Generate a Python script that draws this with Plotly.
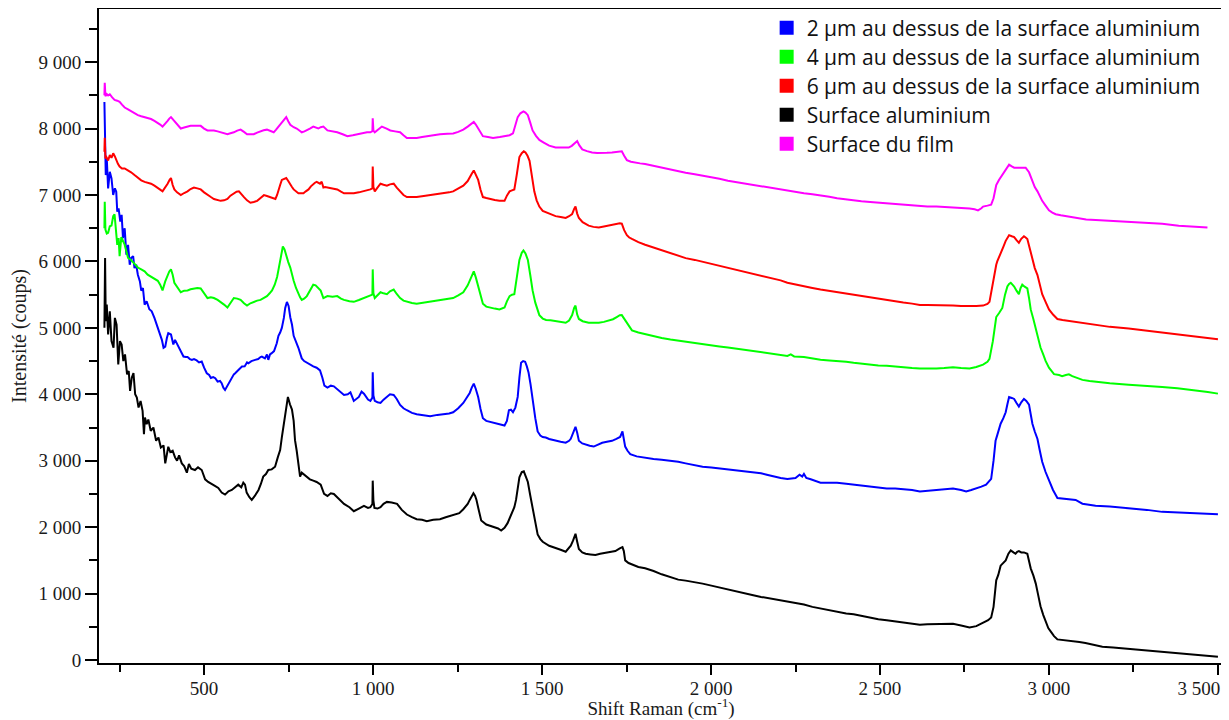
import plotly.graph_objects as go

# ---- data: (Raman shift cm-1, intensity counts) ----
surface_alu = [
(205,5000),(207,6050),(209,5100),(212,5350),(216,4900),(221,5250),(226,4800),(232,4700),(236,5150),(241,5050),
(246,4450),(251,4800),(256,4750),(261,4500),(266,4600),(272,4300),(277,4350),(281,4050),(286,4250),(291,4320),
(296,4000),(301,3950),(306,3800),(312,3900),(318,3750),(322,3400),(325,3650),(330,3550),(335,3620),(342,3450),
(350,3500),(358,3300),(365,3350),(372,3200),(380,3230),(385,2960),(390,3100),(394,3210),(400,3130),(407,3150),
(414,3050),(420,3000),(426,3080),(434,2960),(441,2920),(449,2820),(455,2950),(462,2880),(473,2860),(482,2900),
(493,2860),(503,2720),(512,2680),(523,2640),(532,2620),(542,2590),(552,2520),(562,2490),(572,2540),(582,2560),
(592,2600),(601,2640),(610,2600),(616,2670),(621,2640),(626,2520),(634,2450),(641,2410),(650,2470),(661,2560),
(668,2650),(675,2760),(683,2800),(690,2860),(700,2870),(710,2910),(718,3050),(725,3160),(730,3350),(735,3510),
(742,3780),(748,3960),(754,3850),(760,3770),(765,3600),(769,3310),(774,3150),(779,2950),(784,2760),(789,2820),
(794,2800),(804,2760),(813,2720),(823,2700),(833,2680),(845,2640),(855,2500),(865,2470),(875,2510),(884,2500),
(900,2420),(914,2350),(930,2300),(943,2240),(958,2280),(973,2320),(985,2290),(992,2300),(998,2350),(999,2700),
(1001,2400),(1004,2290),(1013,2280),(1022,2300),(1031,2350),(1041,2380),(1055,2370),(1071,2350),(1085,2260),(1100,2190),
(1115,2150),(1129,2120),(1145,2110),(1159,2090),(1178,2110),(1198,2120),(1215,2150),(1237,2180),(1255,2210),(1267,2270),
(1280,2350),(1286,2410),(1292,2480),(1297,2510),(1302,2470),(1306,2410),(1313,2250),(1320,2100),(1335,2040),(1355,2010),
(1370,1980),(1379,1950),(1389,1990),(1398,2060),(1409,2180),(1418,2300),(1423,2410),(1429,2600),(1433,2750),(1440,2830),
(1446,2840),(1452,2760),(1458,2680),(1465,2480),(1472,2300),(1480,2080),(1487,1890),(1495,1820),(1502,1780),(1521,1720),
(1540,1690),(1555,1660),(1570,1630),(1585,1720),(1592,1800),(1599,1900),(1604,1780),(1609,1670),(1619,1620),(1629,1600),
(1643,1590),(1658,1580),(1672,1600),(1687,1610),(1702,1620),(1717,1640),(1730,1680),(1738,1700),(1742,1640),(1746,1500),
(1756,1460),(1766,1440),(1785,1400),(1805,1380),(1830,1340),(1854,1290),(1880,1250),(1903,1210),(1925,1195),(1952,1175),
(1975,1150),(2001,1120),(2025,1090),(2050,1060),(2075,1030),(2099,1005),(2125,975),(2148,950),(2165,935),(2187,910),
(2206,895),(2226,885),(2250,860),(2275,835),(2300,800),(2324,775),(2350,750),(2373,720),(2400,700),(2422,690),
(2445,665),(2471,635),(2495,615),(2520,600),(2545,585),(2569,570),(2595,555),(2618,530),(2640,540),(2667,545),
(2690,550),(2716,545),(2740,520),(2765,490),(2785,510),(2805,560),(2820,600),(2829,640),(2836,800),(2844,1200),
(2850,1280),(2857,1420),(2865,1470),(2872,1500),(2880,1600),(2887,1650),(2895,1620),(2901,1600),(2906,1630),(2911,1640),
(2918,1620),(2926,1620),(2936,1600),(2941,1500),(2946,1380),(2954,1270),(2961,1150),(2968,980),(2975,810),(2983,680),
(2990,580),(2998,480),(3005,430),(3015,360),(3025,310),(3045,300),(3069,285),(3090,270),(3108,255),(3130,230),
(3158,200),(3190,190),(3236,170),(3270,155),(3305,140),(3340,125),(3374,110),(3400,100),(3433,80),(3470,65),(3500,50),
]

above_2um = [
(205,8400),(207,7700),(209,7300),(212,7550),(216,7100),(221,7350),(226,7250),(231,7000),(236,7100),(240,7050),
(243,6750),(247,6800),(252,6600),(256,6700),(260,6350),(265,6500),(270,6100),(275,6250),(280,5950),(284,6050),
(290,6080),(294,5900),(299,5950),(304,5800),(310,5700),(314,5560),(319,5600),(324,5350),(330,5400),(338,5280),
(345,5250),(353,5150),(360,5050),(368,4930),(375,4819),(380,4700),(385,4718),(390,4850),(394,4920),(402,4900),
(409,4750),(414,4819),(420,4760),(427,4700),(431,4650),(439,4568),(446,4560),(451,4560),(458,4530),(464,4518),
(470,4530),(478,4510),(485,4480),(493,4493),(500,4400),(508,4317),(515,4290),(520,4245),(527,4260),(533,4242),
(540,4190),(547,4200),(552,4167),(557,4100),(562,4066),(567,4110),(572,4167),(580,4220),(588,4300),(592,4317),
(600,4360),(606,4400),(612,4417),(620,4420),(627,4480),(631,4468),(640,4500),(651,4518),(660,4530),(667,4560),
(671,4568),(680,4540),(686,4600),(690,4518),(695,4600),(700,4619),(707,4650),(715,4769),(720,4880),(725,4930),
(730,5000),(736,5150),(740,5300),(745,5390),(750,5330),(755,5160),(760,5050),(765,4880),(772,4800),(779,4700),
(784,4620),(789,4540),(796,4500),(804,4475),(813,4450),(823,4420),(833,4400),(843,4360),(850,4250),(856,4130),
(865,4100),(875,4130),(884,4120),(900,4050),(914,3990),(925,4000),(933,4030),(943,3900),(958,3960),(966,4040),
(973,4010),(985,3920),(992,3900),(998,3950),(999,4330),(1001,3980),(1005,3900),(1013,3880),(1022,3870),(1031,3920),
(1041,3960),(1050,4000),(1061,3990),(1070,3930),(1080,3840),(1090,3790),(1100,3760),(1115,3720),(1129,3700),(1150,3680),
(1169,3670),(1190,3690),(1208,3700),(1225,3710),(1237,3730),(1252,3790),(1267,3870),(1280,3960),(1286,4020),(1292,4100),
(1298,4160),(1304,4080),(1311,3960),(1318,3780),(1325,3640),(1335,3600),(1345,3586),(1360,3570),(1374,3557),(1389,3530),
(1396,3600),(1402,3760),(1408,3770),(1414,3730),(1421,3800),(1428,3960),(1433,4250),(1438,4475),(1444,4500),(1450,4490),
(1455,4420),(1460,4330),(1466,4150),(1472,3900),(1480,3640),(1487,3440),(1495,3380),(1502,3357),(1511,3350),(1521,3328),
(1540,3299),(1555,3285),(1570,3271),(1580,3300),(1585,3330),(1592,3420),(1599,3510),(1604,3420),(1609,3300),(1619,3260),
(1629,3242),(1641,3225),(1653,3213),(1665,3240),(1678,3271),(1692,3285),(1707,3300),(1720,3330),(1731,3357),(1738,3440),
(1742,3330),(1746,3213),(1753,3150),(1761,3099),(1780,3065),(1805,3041),(1830,3025),(1854,3013),(1880,3000),(1903,2984),
(1925,2960),(1952,2927),(1975,2910),(2001,2898),(2025,2885),(2050,2870),(2075,2855),(2099,2841),(2125,2825),(2148,2812),
(2165,2790),(2187,2760),(2206,2740),(2226,2726),(2250,2740),(2262,2790),(2270,2760),(2275,2800),(2282,2740),(2295,2720),
(2310,2690),(2324,2669),(2350,2670),(2373,2669),(2400,2655),(2422,2640),(2445,2625),(2471,2612),(2495,2595),(2520,2583),
(2545,2580),(2569,2575),(2595,2560),(2618,2537),(2640,2545),(2667,2554),(2690,2570),(2716,2583),(2740,2560),(2755,2537),
(2770,2560),(2785,2583),(2800,2610),(2814,2640),(2824,2700),(2829,2726),(2836,3000),(2842,3300),(2847,3385),(2857,3557),
(2865,3640),(2872,3729),(2877,3850),(2882,3959),(2890,3945),(2897,3930),(2904,3870),(2911,3815),(2918,3880),(2926,3930),
(2933,3900),(2941,3844),(2946,3700),(2951,3557),(2958,3440),(2966,3328),(2973,3150),(2980,2984),(2990,2830),(3000,2697),
(3012,2560),(3025,2439),(3040,2430),(3059,2422),(3079,2410),(3099,2353),(3120,2335),(3138,2324),(3180,2310),(3236,2290),
(3290,2260),(3335,2230),(3380,2220),(3433,2210),(3470,2200),(3500,2195),
]

above_4um = [
(205,6500),(206,6900),(208,6480),(212,6420),(216,6430),(221,6530),(226,6540),(231,6680),(235,6710),(239,6500),
(243,6250),(247,6350),(250,6080),(255,6367),(260,6300),(265,6252),(270,6150),(275,6052),(282,6030),(289,5994),
(296,5960),(304,5908),(314,5880),(324,5851),(333,5800),(343,5765),(353,5740),(363,5708),(370,5650),(377,5564),
(385,5700),(392,5794),(397,5850),(402,5880),(407,5800),(412,5679),(420,5620),(431,5536),(441,5560),(451,5564),
(460,5580),(470,5593),(480,5600),(490,5593),(500,5520),(510,5449),(520,5460),(529,5449),(540,5420),(549,5392),
(559,5350),(569,5306),(578,5380),(588,5449),(598,5440),(608,5421),(618,5370),(627,5335),(637,5370),(647,5392),
(657,5410),(667,5421),(676,5450),(686,5478),(694,5520),(701,5564),(709,5650),(716,5765),(721,5900),(725,6023),
(729,6150),(733,6224),(738,6180),(743,6080),(749,5990),(755,5908),(760,5800),(765,5708),(772,5600),(779,5507),
(784,5460),(789,5421),(796,5440),(804,5478),(813,5560),(823,5650),(830,5640),(838,5593),(845,5560),(853,5449),
(865,5478),(880,5470),(894,5478),(905,5440),(914,5421),(930,5400),(943,5392),(958,5420),(973,5449),(985,5465),
(992,5478),(998,5500),(999,5880),(1001,5520),(1005,5449),(1013,5490),(1022,5536),(1031,5520),(1041,5507),(1050,5550),
(1061,5576),(1070,5510),(1080,5449),(1090,5410),(1100,5392),(1115,5375),(1129,5364),(1150,5380),(1169,5392),(1190,5405),
(1208,5421),(1225,5435),(1237,5449),(1252,5490),(1267,5536),(1280,5640),(1286,5708),(1292,5790),(1298,5851),(1304,5760),
(1311,5622),(1318,5470),(1325,5364),(1335,5320),(1345,5306),(1360,5290),(1374,5278),(1389,5306),(1396,5400),(1404,5478),
(1411,5500),(1418,5507),(1425,5750),(1433,6023),(1440,6130),(1445,6166),(1451,6120),(1458,6023),(1465,5800),(1472,5564),
(1480,5380),(1492,5192),(1502,5140),(1512,5120),(1525,5115),(1540,5106),(1555,5090),(1570,5077),(1580,5110),(1589,5192),
(1595,5300),(1599,5335),(1604,5200),(1609,5134),(1620,5100),(1638,5077),(1652,5077),(1668,5077),(1683,5090),(1697,5106),
(1710,5130),(1721,5163),(1730,5190),(1736,5192),(1743,5140),(1751,5077),(1758,5010),(1766,4962),(1785,4930),(1805,4905),
(1830,4875),(1854,4847),(1880,4825),(1903,4807),(1925,4790),(1952,4773),(1975,4750),(2001,4733),(2025,4720),(2050,4704),
(2075,4685),(2099,4664),(2125,4650),(2148,4635),(2165,4620),(2187,4601),(2206,4590),(2226,4578),(2236,4600),(2246,4570),
(2275,4561),(2300,4540),(2324,4521),(2350,4510),(2373,4503),(2400,4490),(2422,4475),(2445,4460),(2471,4446),(2495,4435),
(2520,4429),(2545,4415),(2569,4406),(2595,4395),(2618,4389),(2640,4385),(2667,4389),(2690,4395),(2716,4406),(2740,4395),
(2765,4389),(2785,4410),(2805,4446),(2818,4490),(2824,4532),(2834,4800),(2844,5163),(2852,5220),(2862,5300),(2870,5500),
(2877,5622),(2882,5660),(2887,5679),(2892,5650),(2897,5622),(2904,5560),(2911,5507),(2916,5600),(2921,5650),(2928,5620),
(2936,5593),(2941,5450),(2946,5278),(2954,5130),(2961,4991),(2968,4850),(2975,4704),(2983,4600),(2990,4503),(3000,4400),
(3015,4303),(3030,4290),(3039,4274),(3050,4290),(3059,4300),(3069,4274),(3084,4240),(3099,4217),(3120,4200),(3138,4188),
(3180,4165),(3236,4142),(3290,4130),(3335,4110),(3380,4090),(3433,4060),(3470,4035),(3500,4010),
]

above_6um = [
(205,7650),(206,7860),(208,7550),(211,7571),(216,7520),(221,7600),(226,7560),(231,7628),(236,7580),(240,7514),
(245,7470),(250,7428),(257,7400),(265,7399),(275,7370),(284,7342),(294,7300),(304,7256),(314,7220),(324,7198),
(333,7185),(343,7170),(353,7140),(363,7112),(370,7080),(377,7055),(385,7110),(392,7170),(398,7230),(402,7256),
(407,7150),(412,7084),(420,7040),(431,6998),(441,7030),(451,7055),(460,7090),(470,7112),(480,7100),(490,7084),
(500,7040),(510,6998),(520,6970),(529,6940),(540,6925),(549,6912),(559,6920),(569,6940),(578,6990),(588,7026),
(596,7050),(603,7055),(610,7010),(618,6969),(627,6920),(637,6883),(647,6895),(657,6912),(667,6955),(677,6998),
(686,6985),(696,6969),(704,6950),(711,6940),(716,7000),(720,7055),(725,7150),(730,7227),(736,7240),(743,7256),
(749,7210),(755,7170),(760,7120),(765,7084),(772,7050),(779,7026),(786,7026),(794,7026),(801,7055),(809,7084),
(816,7130),(823,7170),(828,7185),(833,7198),(838,7185),(843,7170),(848,7200),(853,7112),(858,7120),(865,7112),
(880,7095),(894,7084),(905,7050),(914,7026),(930,7026),(943,7026),(958,7040),(973,7055),(985,7070),(992,7084),
(998,7100),(999,7428),(1001,7120),(1005,7055),(1013,7110),(1022,7170),(1031,7155),(1041,7141),(1050,7160),(1061,7170),
(1070,7110),(1080,7055),(1090,7000),(1100,6969),(1115,6969),(1129,6969),(1150,6985),(1169,6998),(1190,7010),(1208,7026),
(1225,7040),(1237,7055),(1252,7100),(1267,7141),(1280,7210),(1286,7256),(1292,7320),(1298,7370),(1304,7310),(1311,7227),
(1318,7080),(1325,6969),(1335,6955),(1345,6940),(1360,6925),(1374,6912),(1389,6912),(1396,6990),(1404,7055),(1411,7070),
(1418,7084),(1425,7300),(1433,7571),(1440,7630),(1446,7657),(1451,7640),(1457,7590),(1463,7514),(1470,7280),(1477,7055),
(1484,6920),(1492,6826),(1502,6760),(1512,6740),(1525,6715),(1540,6682),(1555,6670),(1570,6654),(1580,6680),(1589,6711),
(1595,6790),(1599,6826),(1604,6720),(1609,6654),(1620,6590),(1638,6539),(1652,6520),(1668,6510),(1683,6525),(1697,6539),
(1710,6555),(1721,6568),(1730,6575),(1736,6568),(1743,6470),(1751,6396),(1758,6360),(1766,6338),(1785,6290),(1805,6252),
(1830,6210),(1854,6166),(1880,6120),(1903,6080),(1925,6050),(1952,6023),(1975,5995),(2001,5966),(2025,5935),(2050,5908),
(2075,5880),(2099,5851),(2125,5820),(2148,5794),(2165,5765),(2187,5736),(2206,5715),(2226,5679),(2250,5650),(2275,5622),
(2300,5600),(2324,5576),(2350,5555),(2373,5536),(2400,5515),(2422,5496),(2445,5470),(2471,5449),(2495,5435),(2520,5421),
(2545,5400),(2569,5381),(2595,5365),(2618,5346),(2640,5346),(2667,5346),(2690,5340),(2716,5335),(2740,5330),(2765,5324),
(2785,5330),(2805,5335),(2818,5360),(2824,5392),(2834,5700),(2844,5950),(2847,6000),(2857,6138),(2865,6220),(2872,6310),
(2877,6360),(2882,6396),(2890,6380),(2897,6367),(2904,6320),(2911,6281),(2918,6340),(2926,6379),(2931,6360),(2936,6338),
(2944,6180),(2951,6023),(2958,5900),(2966,5794),(2973,5650),(2980,5507),(2990,5390),(3000,5278),(3012,5200),(3025,5134),
(3040,5120),(3059,5106),(3079,5090),(3099,5077),(3120,5055),(3138,5037),(3180,5015),(3236,4991),(3290,4960),(3335,4930),
(3380,4900),(3433,4870),(3470,4850),(3500,4830),
]

surface_film = [
(205,8500),(206,8689),(208,8489),(212,8520),(216,8500),(221,8517),(228,8470),(235,8431),(243,8420),(250,8403),
(257,8360),(265,8317),(275,8290),(284,8259),(294,8230),(304,8202),(314,8185),(324,8173),(333,8160),(343,8144),
(353,8115),(363,8087),(370,8060),(377,8030),(385,8070),(392,8116),(397,8150),(402,8173),(409,8130),(417,8087),
(424,8040),(431,8001),(441,8015),(451,8030),(460,8041),(470,8041),(480,8041),(490,8041),(500,8000),(510,7972),
(520,7972),(529,7972),(540,7958),(549,7944),(559,7930),(569,7915),(578,7930),(588,7944),(598,7970),(608,7984),
(618,7950),(627,7915),(637,7915),(647,7915),(657,7940),(667,7961),(676,7975),(686,7984),(696,7965),(706,7944),
(713,7985),(720,8030),(725,8060),(730,8087),(736,8130),(743,8173),(749,8110),(755,8058),(765,8020),(774,8001),
(782,7970),(789,7944),(797,7958),(804,7972),(813,8000),(823,8030),(830,8015),(838,8001),(845,8020),(853,8030),
(865,7972),(880,7958),(894,7944),(910,7915),(924,7886),(940,7900),(953,7915),(970,7930),(982,7944),(992,7944),
(998,7960),(999,8156),(1001,7970),(1005,7944),(1015,7990),(1026,8030),(1040,8000),(1051,7972),(1065,7958),(1080,7944),
(1090,7900),(1100,7858),(1115,7858),(1129,7858),(1145,7872),(1159,7886),(1180,7900),(1198,7915),(1220,7921),(1237,7927),
(1252,7950),(1267,7984),(1280,8030),(1286,8058),(1292,8080),(1298,8099),(1304,8060),(1311,8001),(1318,7940),(1325,7886),
(1340,7872),(1355,7858),(1375,7872),(1394,7886),(1404,7900),(1414,7927),(1421,8050),(1428,8173),(1436,8230),(1445,8259),
(1451,8240),(1458,8202),(1465,8090),(1472,7972),(1482,7890),(1492,7829),(1505,7790),(1521,7743),(1540,7714),(1560,7714),
(1579,7714),(1588,7740),(1594,7772),(1599,7800),(1604,7812),(1610,7750),(1619,7686),(1633,7660),(1648,7640),(1663,7632),
(1678,7628),(1692,7635),(1707,7640),(1722,7650),(1736,7657),(1743,7590),(1751,7525),(1763,7500),(1775,7485),(1790,7476),
(1805,7468),(1830,7440),(1854,7411),(1880,7382),(1903,7353),(1925,7335),(1952,7313),(1975,7295),(2001,7273),(2025,7245),
(2050,7216),(2075,7195),(2099,7170),(2125,7145),(2148,7124),(2165,7110),(2187,7095),(2206,7085),(2226,7067),(2250,7045),
(2275,7026),(2300,7012),(2324,6998),(2350,6975),(2373,6952),(2400,6932),(2422,6912),(2445,6905),(2471,6895),(2495,6885),
(2520,6872),(2545,6862),(2569,6854),(2595,6840),(2618,6826),(2640,6826),(2667,6826),(2690,6820),(2716,6814),(2740,6805),
(2765,6797),(2780,6785),(2790,6769),(2800,6800),(2805,6826),(2818,6840),(2829,6854),(2836,6950),(2844,7150),(2852,7227),
(2860,7290),(2867,7342),(2875,7400),(2882,7456),(2890,7430),(2897,7411),(2904,7411),(2911,7411),(2920,7411),(2931,7411),
(2941,7342),(2951,7198),(2958,7120),(2966,7055),(2973,6980),(2980,6912),(2990,6840),(3000,6769),(3010,6735),(3020,6711),
(3035,6695),(3049,6682),(3070,6660),(3089,6642),(3110,6633),(3138,6625),(3180,6612),(3236,6596),(3290,6582),(3335,6568),
(3384,6539),(3433,6528),(3469,6510),
]

series_names = [
    "2 µm au dessus de la surface aluminium",
    "4 µm au dessus de la surface aluminium",
    "6 µm au dessus de la surface aluminium",
    "Surface aluminium",
    "Surface du film",
]
series_data = [above_2um, above_4um, above_6um, surface_alu, surface_film]
series_colors = ["#0000FF", "#00FF00", "#FF0000", "#000000", "#FF00FF"]

x_tick_vals = [500, 1000, 1500, 2000, 2500, 3000, 3500]
x_tick_text = ["500", "1 000", "1 500", "2 000", "2 500", "3 000",
               "3 500" + "&nbsp;" * 8]
y_tick_vals = [0, 1000, 2000, 3000, 4000, 5000, 6000, 7000, 8000, 9000]
y_tick_text = ["0", "1 000", "2 000", "3 000", "4 000", "5 000", "6 000",
               "7 000", "8 000", "9 000"]

fig = go.Figure()
for name, data, color in zip(series_names, series_data, series_colors):
    xs = [p[0] for p in data]
    ys = [p[1] for p in data]
    fig.add_trace(go.Scatter(x=xs, y=ys, mode="lines", name=name,
                             line=dict(color=color, width=2),
                             showlegend=False, hoverinfo="skip"))

# legend entries with square swatches, one small legend per row
legend_ids = ["legend", "legend2", "legend3", "legend4", "legend5"]
for name, color, lid in zip(series_names, series_colors, legend_ids):
    fig.add_trace(go.Scatter(x=[None], y=[None], mode="markers", name=name,
                             marker=dict(symbol="square", size=14, color=color),
                             showlegend=True, legend=lid))

serif = "Liberation Serif"
tickfont = dict(family=serif, size=19, color="#1a1a1a")
legend_font = dict(family="Open Sans", size=21, color="#111111")

# the page body adds an 8 px offset; figure is sized to fit the window
plot_top, plot_h = 1, 654
row_centers = [20, 49, 78, 107, 136]   # figure pixels
legend_layout = {}
for lid, yc in zip(legend_ids, row_centers):
    legend_layout[lid] = dict(x=0.594, y=1 - (yc - plot_top) / plot_h,
                              xanchor="left", yanchor="middle",
                              bgcolor="rgba(0,0,0,0)", borderwidth=0,
                              font=legend_font, itemwidth=30)

fig.update_layout(
    width=1221, height=712,
    margin=dict(l=91, r=6, t=1, b=57, autoexpand=False),
    plot_bgcolor="white", paper_bgcolor="white",
    **legend_layout,
)
fig.update_xaxes(
    range=[189, 3515], tickvals=x_tick_vals, ticktext=x_tick_text,
    ticklabeloverflow="allow", ticklabelstandoff=-3,
    ticks="outside", ticklen=10, tickwidth=2, tickcolor="black",
    showline=True, linewidth=2, linecolor="black", mirror=True,
    showgrid=False, zeroline=False, tickfont=tickfont, automargin=False,
    minor=dict(tick0=0, dtick=250, ticks="outside", ticklen=7, tickwidth=2,
               tickcolor="black", showgrid=False),
    title=dict(text="Shift Raman (cm<sup>-1</sup>)",
               font=dict(family=serif, size=19, color="#1a1a1a"), standoff=5),
)
fig.update_yaxes(
    range=[-45, 9800], tickvals=y_tick_vals, ticktext=y_tick_text,
    ticks="outside", ticklen=12, tickwidth=2, tickcolor="black",
    showline=True, linewidth=2, linecolor="black", mirror=True,
    showgrid=False, zeroline=False, tickfont=tickfont, automargin=False,
    minor=dict(tick0=0, dtick=500, ticks="outside", ticklen=8, tickwidth=2,
               tickcolor="black", showgrid=False),
    title=dict(text="Intensité (coups)",
               font=dict(family=serif, size=20, color="#1a1a1a"), standoff=8),
)

fig.write_html("out.html")
